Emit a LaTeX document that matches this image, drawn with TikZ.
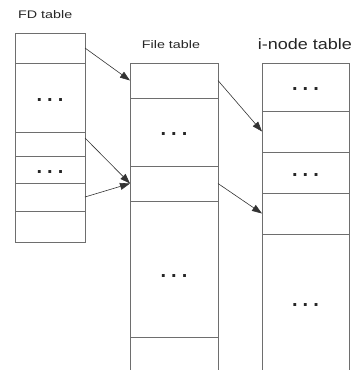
\documentclass[tikz,border=0pt]{standalone}
\usepackage{fontspec}
\setmainfont{Liberation Sans}
\usetikzlibrary{arrows.meta,calc}
\definecolor{boxgray}{HTML}{6E6E6E}
\definecolor{arrgray}{HTML}{333333}
\newcommand\threedots{{\fontsize{20}{20}\selectfont\bfseries .\kern5pt.\kern5pt.}}
\begin{document}
\begin{tikzpicture}[x=1pt,y=-1pt,
  cell/.style={draw=boxgray, line width=0.8pt, anchor=north west, inner sep=0pt, outer sep=0pt, fill=white},
  dotsnode/.style={inner sep=0pt, text=black!85, yshift=-2.5pt},
  side/.style={draw=boxgray, line width=0.8pt},
  arr/.style={draw=arrgray, line width=0.6pt, -{Triangle[length=10pt,width=7pt]}},
  lbl/.style={anchor=base, inner sep=0pt, text=black!85}
]
\useasboundingbox (0,0) rectangle (354,370);
% FD table
\node[cell, minimum width=70pt, minimum height=30pt] (fd1) at (15,33) {};
\node[cell, minimum width=70pt, minimum height=69pt] (fd2) at (15,63) {};
\node[cell, minimum width=70pt, minimum height=24pt] (fd3) at (15,132) {};
\node[cell, minimum width=70pt, minimum height=27pt] (fd4) at (15,156) {};
\node[cell, minimum width=70pt, minimum height=28pt] (fd5) at (15,183) {};
\node[cell, minimum width=70pt, minimum height=31pt] (fd6) at (15,211) {};
\node[dotsnode] (fd2d) at (fd2.center) {\threedots};
\node[dotsnode] (fd4d) at (fd4.center) {\threedots};
% File table
\node[cell, minimum width=88pt, minimum height=35pt] (f1) at (130,63) {};
\node[cell, minimum width=88pt, minimum height=68pt] (f2) at (130,98) {};
\node[cell, minimum width=88pt, minimum height=35pt] (f3) at (130,166) {};
\node[cell, minimum width=88pt, minimum height=136pt] (f4) at (130,201) {};
\draw[side] (130,337) -- (130,372) (218,337) -- (218,372);
\node[dotsnode] (f2d) at (f2.center) {\threedots};
\node[dotsnode, yshift=-4.5pt] (f4d) at (f4.center) {\threedots};
% i-node table
\node[cell, minimum width=87pt, minimum height=48pt] (i1) at (262,63) {};
\node[cell, minimum width=87pt, minimum height=41pt] (i2) at (262,111) {};
\node[cell, minimum width=87pt, minimum height=41pt] (i3) at (262,152) {};
\node[cell, minimum width=87pt, minimum height=41pt] (i4) at (262,193) {};
\draw[side] (262,234) -- (262,372) (349,234) -- (349,372);
\node[dotsnode] (i1d) at (i1.center) {\threedots};
\node[dotsnode] (i3d) at (i3.center) {\threedots};
\node[dotsnode] (i5d) at (305.5,303) {\threedots};
% labels
\node[lbl, anchor=base west] (lfd) at (18,18) {\scalebox{1.3}[1]{\fontsize{11}{11}\selectfont FD table}};
\node[lbl] (lf) at (171,48) {\scalebox{1.3}[1]{\fontsize{11}{11}\selectfont File table}};
\node[lbl] (li) at (305,49) {\scalebox{1.2}[1]{\fontsize{15}{15}\selectfont i-node table}};
% arrows
\draw[arr] (fd1.east) -- (f1.west);
\draw[arr] ([yshift=6pt]fd3.east) -- (f3.west);
\draw[arr] (fd5.east) -- (f3.west);
\draw[arr] (f1.east) -- (i2.west);
\draw[arr] (f3.east) -- (i4.west);
\end{tikzpicture}
\end{document}
